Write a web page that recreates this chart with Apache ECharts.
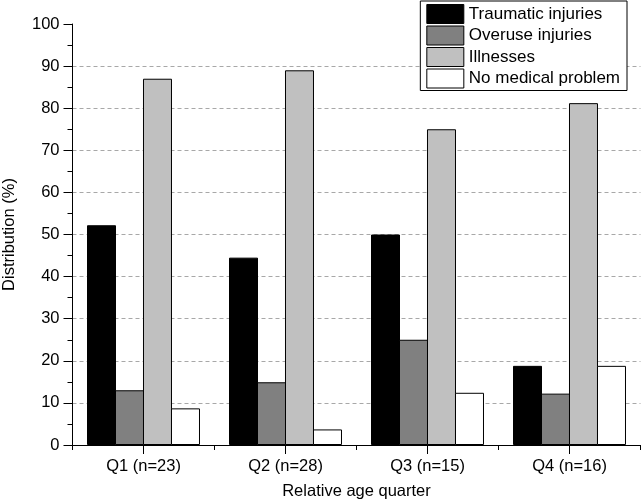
<!DOCTYPE html>
<html>
<head>
<meta charset="utf-8">
<script src="https://cdn.jsdelivr.net/npm/echarts@6/dist/echarts.min.js"></script>
<style>html,body{margin:0;padding:0;background:#fff}#c{width:644px;height:500px}</style>
</head>
<body>
<div id="c"></div>
<script>
var categories = ['Q1 (n=23)', 'Q2 (n=28)', 'Q3 (n=15)', 'Q4 (n=16)'];
var traumatic = [52.2, 44.5, 50.0, 18.8];
var overuse = [13.0, 14.9, 25.0, 12.2];
var illnesses = [87.0, 89.0, 75.0, 81.2];
var noProblem = [8.7, 3.7, 12.4, 18.8];
var seriesNames = ['Traumatic injuries', 'Overuse injuries', 'Illnesses', 'No medical problem'];
var seriesColors = ['#000000', '#808080', '#c0c0c0', '#ffffff'];
var seriesData = [traumatic, overuse, illnesses, noProblem];

var FONT = 'Liberation Sans, Arial, sans-serif';
var chart = echarts.init(document.getElementById('c'), null, {renderer: 'canvas'});
chart.setOption({
  animation: false,
  backgroundColor: '#fff',
  textStyle: {fontFamily: FONT, color: '#000'},
  grid: {left: 72.5, right: 3.5, top: 24, bottom: 55, containLabel: false, outerBoundsMode: 'none'},
  legend: {
    orient: 'vertical',
    right: 17,
    top: 1,
    padding: [3, 7, 2, 6],
    icon: 'rect',
    itemWidth: 37,
    itemHeight: 19,
    itemGap: 1.5,
    borderColor: '#000',
    borderWidth: 1,
    borderRadius: 0,
    backgroundColor: '#fff',
    itemStyle: {borderColor: '#000', borderWidth: 1, borderRadius: 0},
    textStyle: {fontFamily: FONT, fontSize: 17, lineHeight: 16, color: '#000'},
    data: seriesNames
  },
  xAxis: [{
    type: 'category',
    data: categories,
    axisLine: {lineStyle: {color: '#000', width: 1}},
    axisTick: {show: true, alignWithLabel: true, length: 9, lineStyle: {color: '#000'}},
    axisLabel: {fontFamily: FONT, fontSize: 16.5, color: '#000', margin: 13},
    name: 'Relative age quarter',
    nameLocation: 'middle',
    nameGap: 38,
    nameTextStyle: {fontFamily: FONT, fontSize: 16.5, color: '#000'}
  }, {
    type: 'category',
    data: categories,
    position: 'bottom',
    axisLine: {show: false},
    axisTick: {show: true, length: 5, lineStyle: {color: '#000'}},
    axisLabel: {show: false}
  }],
  yAxis: {
    type: 'value',
    min: 0, max: 100, interval: 10,
    axisLine: {show: true, lineStyle: {color: '#000', width: 1}},
    axisTick: {show: true, length: 9, lineStyle: {color: '#000'}},
    minorTick: {show: true, splitNumber: 2, length: 5, lineStyle: {color: '#000'}},
    axisLabel: {fontFamily: FONT, fontSize: 16.5, color: '#000', margin: 13},
    splitLine: {show: true, showMinLine: false, showMaxLine: false, lineStyle: {color: '#a8a8a8', type: [4, 3], width: 1}},
    name: 'Distribution (%)',
    nameLocation: 'middle',
    nameGap: 55,
    nameTextStyle: {fontFamily: FONT, fontSize: 16.5, color: '#000'}
  },
  series: seriesNames.map(function (n, i) {
    return {
      name: n,
      type: 'bar',
      data: seriesData[i],
      barWidth: 29,
      barGap: '-3.45%',
      itemStyle: {color: seriesColors[i], borderColor: '#000', borderWidth: 1, borderRadius: 0},
      emphasis: {disabled: true}
    };
  })
});
</script>
</body>
</html>
